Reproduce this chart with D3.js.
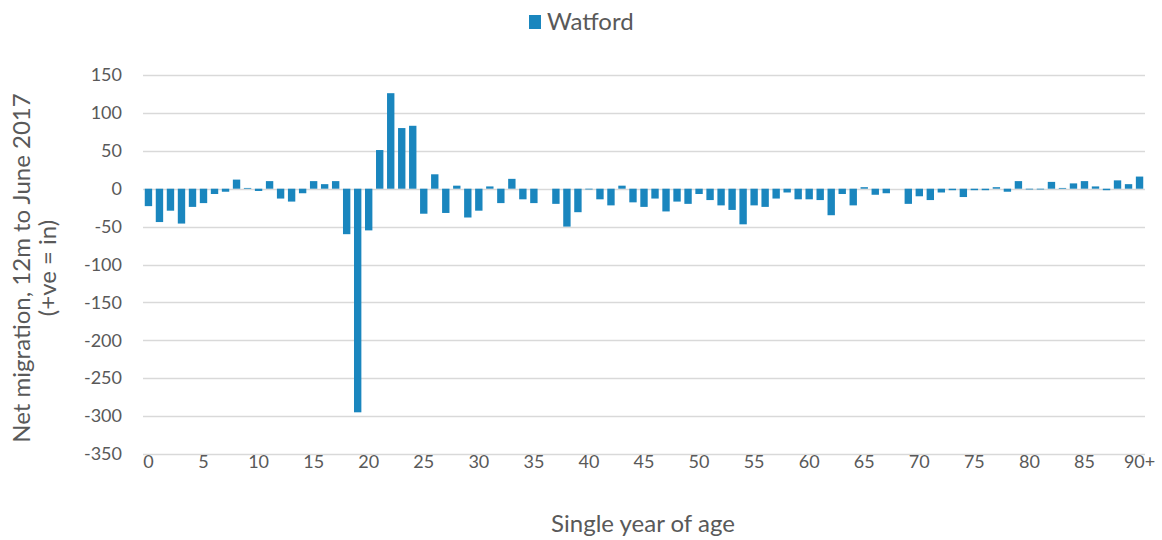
<!DOCTYPE html>
<html><head><meta charset="utf-8">
<script src="https://cdn.jsdelivr.net/npm/d3@7"></script>
<style>body{margin:0;background:#fff}svg{display:block}</style>
</head><body><svg id="c" width="1162" height="540"></svg>
<script>
const ages = d3.range(0, 91).map(d => d === 90 ? "90+" : String(d));
const values = [
 -23,-44,-29,-46,-24,-19,-7,-4,12,1,-3,10,-13,-17,-6,10,6,10,-60,-295,
 -55,51,126,80,83,-33,19,-32,4,-38,-29,3,-19,13,-14,-19,0,-20,-50,-31,
 -1,-14,-22,4,-18,-24,-13,-30,-17,-20,-7,-15,-22,-28,-47,-22,-24,-13,-5,-14,
 -14,-15,-35,-7,-22,2,-8,-6,0,-20,-10,-15,-5,-2,-11,-2,-2,2,-4,10,
 -1,-1,9,1,7,10,3,-2,11,6,16
];
const yTicks = [150,100,50,0,-50,-100,-150,-200,-250,-300,-350];
const xTickLabels = ["0","5","10","15","20","25","30","35","40","45","50","55","60","65","70","75","80","85","90+"];
const seriesName = "Watford";

(function(){
const svg = d3.select("#c");
const font = "Lato, 'Open Sans', sans-serif";
const pL = 143, pR = 1145, pT = 75, pB = 454;
const x = d3.scaleBand().domain(ages).range([pL, pR]).paddingInner(0.33).paddingOuter(0.16);
const y = d3.scaleLinear().domain([-350, 150]).range([pB, pT]);
const color = "#1a86be";

svg.append("g").selectAll("line").data(yTicks).join("line")
  .attr("x1", pL).attr("x2", pR)
  .attr("y1", d => Math.round(y(d)) + 0.5).attr("y2", d => Math.round(y(d)) + 0.5)
  .attr("stroke", "#d9d9d9").attr("stroke-width", 1.3);

svg.append("g").selectAll("rect").data(values).join("rect")
  .attr("x", (d, i) => x(ages[i]))
  .attr("width", x.bandwidth())
  .attr("y", d => y(Math.max(0, d)))
  .attr("height", d => Math.abs(y(d) - y(0)))
  .attr("fill", color);

const yAxis = d3.axisLeft(y).tickValues(yTicks).tickSize(0).tickPadding(0).tickFormat(d => String(d));
const gy = svg.append("g").attr("transform", "translate(122,0)").call(yAxis);
gy.select(".domain").remove();
gy.selectAll("text").attr("font-family", font).attr("font-size", 18).attr("fill", "#595959");

const xAxis = d3.axisBottom(x).tickValues(xTickLabels).tickSize(0).tickPadding(0);
const gx = svg.append("g").attr("transform", "translate(0,455)").call(xAxis);
gx.select(".domain").remove();
gx.selectAll("text").attr("font-family", font).attr("font-size", 18).attr("fill", "#595959").attr("dy", "0.71em");

svg.append("text").attr("x", 643).attr("y", 532).attr("text-anchor", "middle")
  .attr("font-family", font).attr("font-size", 24).attr("fill", "#595959").text("Single year of age");

const t = svg.append("text").attr("transform", "translate(30,268) rotate(-90)").attr("text-anchor", "middle")
  .attr("font-family", font).attr("font-size", 24).attr("fill", "#595959");
t.append("tspan").attr("x", 0).attr("dy", 0).text("Net migration, 12m to June 2017");
t.append("tspan").attr("x", 0).attr("dy", 26).text("(+ve = in)");

svg.append("rect").attr("x", 529).attr("y", 15).attr("width", 12).attr("height", 14).attr("fill", color);
svg.append("text").attr("x", 547).attr("y", 30).attr("font-family", font).attr("font-size", 24)
  .attr("fill", "#595959").text(seriesName);
})();
</script></body></html>
